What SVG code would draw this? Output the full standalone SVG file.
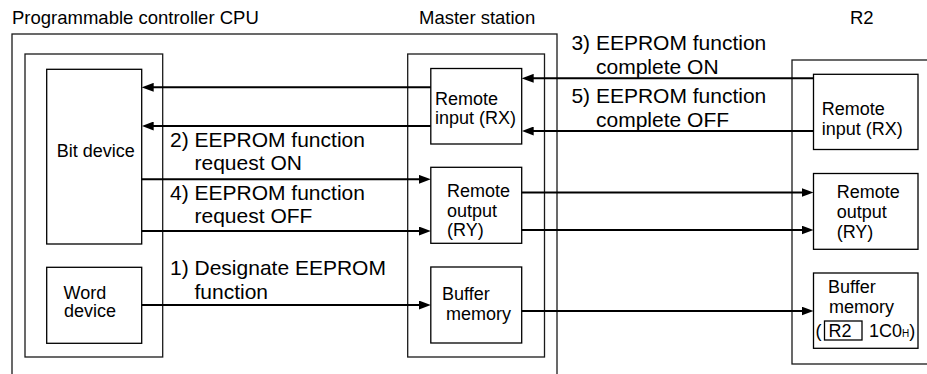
<svg xmlns="http://www.w3.org/2000/svg" width="927" height="374" viewBox="0 0 927 374">
<defs>
<style>
text{font-family:"Liberation Sans",Arial,sans-serif;fill:#000}
.hdr{font-size:18.5px}
.lbl{font-size:18px}
.alb{font-size:21px}
.sub{font-size:10px}
.frame{fill:none;stroke:#1a1a1a;stroke-width:1.3}
.box{fill:none;stroke:#000;stroke-width:1.3}
.c{stroke:#000;stroke-width:2;fill:none;marker-end:url(#ah)}
</style>
<marker id="ah" markerUnits="userSpaceOnUse" markerWidth="12" markerHeight="9" refX="6" refY="4.5" orient="auto"><path d="M0,0 L12,4.5 L0,9 z" fill="#000"/></marker>
</defs>
<rect width="927" height="374" fill="#fff"/>

<g id="headers">
<text class="hdr" x="12" y="24">Programmable controller CPU</text>
<text class="hdr" x="419" y="24">Master station</text>
<text class="hdr" x="850" y="24">R2</text>
</g>

<g id="cpu">
<rect class="frame" x="12" y="34" width="545" height="360"/>
<rect class="frame" x="25" y="54" width="137.7" height="303"/>
</g>
<g id="master">
<rect class="frame" x="407.7" y="54" width="136.8" height="303"/>
</g>
<g id="r2">
<rect class="frame" x="792" y="60" width="150" height="304"/>
</g>

<g id="bit-device">
<rect class="box" x="46.7" y="69.3" width="95" height="174.7"/>
<text class="lbl" x="56.7" y="156.7">Bit device</text>
</g>
<g id="word-device">
<rect class="box" x="46.7" y="267.3" width="95" height="76"/>
<text class="lbl" x="63.5" y="299">Word</text>
<text class="lbl" x="64" y="317">device</text>
</g>

<g id="master-rx">
<rect class="box" x="430.8" y="68.5" width="90.9" height="75.5"/>
<text class="lbl" x="435" y="104.5">Remote</text>
<text class="lbl" x="435" y="124">input (RX)</text>
</g>
<g id="master-ry">
<rect class="box" x="430.8" y="167.3" width="90.9" height="76"/>
<text class="lbl" x="447" y="197">Remote</text>
<text class="lbl" x="447" y="216.5">output</text>
<text class="lbl" x="447" y="236">(RY)</text>
</g>
<g id="master-buffer">
<rect class="box" x="430.8" y="267" width="90.9" height="76"/>
<text class="lbl" x="442" y="299.5">Buffer</text>
<text class="lbl" x="446" y="319.5">memory</text>
</g>

<g id="r2-rx">
<rect class="box" x="813.5" y="74.3" width="104.5" height="75.2"/>
<text class="lbl" x="821.7" y="115">Remote</text>
<text class="lbl" x="821.7" y="135">input (RX)</text>
</g>
<g id="r2-ry">
<rect class="box" x="813.5" y="173.5" width="104.5" height="75.8"/>
<text class="lbl" x="836.7" y="198">Remote</text>
<text class="lbl" x="836.7" y="218">output</text>
<text class="lbl" x="836.7" y="238">(RY)</text>
</g>
<g id="r2-buffer">
<rect class="box" x="813.5" y="273" width="104.5" height="75.3"/>
<text class="lbl" x="828" y="293">Buffer</text>
<text class="lbl" x="829" y="313">memory</text>
<text class="lbl" x="815.5" y="337">(</text>
<rect class="box" x="824.5" y="321" width="37.5" height="19"/>
<text class="lbl" x="828.5" y="337">R2</text>
<text class="lbl" x="869" y="337">1C0<tspan class="sub">H</tspan>)</text>
</g>

<g id="connectors">
<line class="c" x1="430.8" y1="87.3" x2="147.7" y2="87.3"/>
<line class="c" x1="430.8" y1="126" x2="147.7" y2="126"/>
<line class="c" x1="141.7" y1="179.3" x2="424.8" y2="179.3"/>
<line class="c" x1="141.7" y1="231" x2="424.8" y2="231"/>
<line class="c" x1="141.7" y1="305" x2="424.8" y2="305"/>
<line class="c" x1="813.5" y1="78.3" x2="527.7" y2="78.3"/>
<line class="c" x1="813.5" y1="131" x2="527.7" y2="131"/>
<line class="c" x1="521.7" y1="192.5" x2="807.5" y2="192.5"/>
<line class="c" x1="521.7" y1="230" x2="807.5" y2="230"/>
<line class="c" x1="521.7" y1="311" x2="807.5" y2="311"/>
</g>

<g id="connector-labels">
<text class="alb" x="170" y="146.5">2) EEPROM function</text>
<text class="alb" x="194.5" y="169.5">request ON</text>
<text class="alb" x="170" y="200">4) EEPROM function</text>
<text class="alb" x="194.5" y="223">request OFF</text>
<text class="alb" x="170" y="275">1) Designate EEPROM</text>
<text class="alb" x="194.5" y="299">function</text>
<text class="alb" x="571.4" y="50.4">3) EEPROM function</text>
<text class="alb" x="596" y="74">complete ON</text>
<text class="alb" x="571.4" y="102.5">5) EEPROM function</text>
<text class="alb" x="596" y="127">complete OFF</text>
</g>
</svg>
